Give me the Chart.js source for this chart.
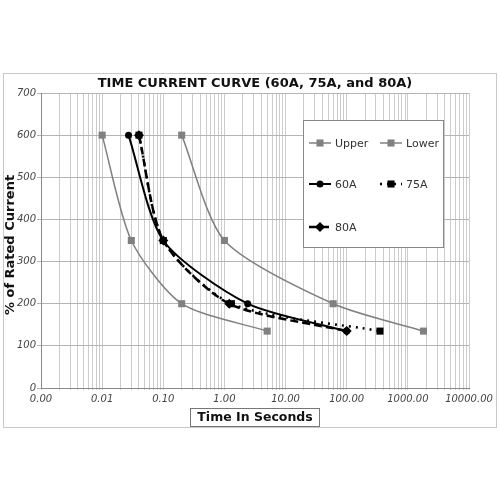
<!DOCTYPE html>
<html>
<head>
<meta charset="utf-8">
<title>Time Current Curve</title>
<script src="https://cdn.jsdelivr.net/npm/chart.js@4.4.1/dist/chart.umd.min.js"></script>
<style>
  html, body { margin: 0; padding: 0; background: #fff; }
</style>
</head>
<body>
<canvas id="tccChart" width="500" height="500"></canvas>
<script>
// time in seconds / % of rated current
const upperTime = [0.01, 0.03, 0.2, 5];
const upperPct = [600, 350, 200, 135];
const lowerTime = [0.2, 1.0, 60, 1800];
const lowerPct = [600, 350, 200, 135];
const amp60Time = [0.027, 0.1, 2.4, 100];
const amp60Pct = [600, 350, 200, 135];
const amp75Time = [0.04, 0.1, 1.3, 350];
const amp75Pct = [600, 350, 200, 135];
const amp80Time = [0.04, 0.1, 1.2, 100];
const amp80Pct = [600, 350, 200, 135];

const seriesNames = ['Upper', 'Lower', '60A', '75A', '80A'];
const xDecades = [0.001, 0.01, 0.1, 1, 10, 100, 1000, 10000];
const xTickLabels = ['0.00', '0.01', '0.10', '1.00', '10.00', '100.00', '1000.00', '10000.00'];
const yMin = 0;
const yMax = 700;
const yStep = 100;

const chartTitle = 'TIME CURRENT CURVE (60A, 75A, and 80A)';
const xTitle = 'Time In Seconds';
const yTitle = '% of Rated Current';

function toPoints(times, pcts) {
    return times.map((t, i) => ({ x: t, y: pcts[i] }));
}

// vertical grid lines at 1..9 of every decade
const xGridValues = [];
xDecades.forEach((d, i) => {
    if (i === xDecades.length - 1) {
        xGridValues.push(d);
        return;
    }
    for (let k = 1; k <= 9; k++) {
        xGridValues.push(Number((d * k).toPrecision(6)));
    }
});

const gray = '#808080';
const black = '#000000';

const datasets = [
    {
        label: seriesNames[0], data: toPoints(upperTime, upperPct),
        borderColor: gray, backgroundColor: gray, borderWidth: 1.5,
        pointStyle: 'rect', pointRadius: 5, pointBorderWidth: 0, order: 3
    },
    {
        label: seriesNames[1], data: toPoints(lowerTime, lowerPct),
        borderColor: gray, backgroundColor: gray, borderWidth: 1.5,
        pointStyle: 'rect', pointRadius: 5, pointBorderWidth: 0, order: 3
    },
    {
        label: seriesNames[2], data: toPoints(amp60Time, amp60Pct),
        borderColor: black, backgroundColor: black, borderWidth: 2,
        pointStyle: 'circle', pointRadius: 3.5, pointBorderWidth: 0, order: 1
    },
    {
        label: seriesNames[3], data: toPoints(amp75Time, amp75Pct),
        borderColor: black, backgroundColor: black, borderWidth: 2.5, borderDash: [2, 5],
        pointStyle: 'rect', pointRadius: 5, pointBorderWidth: 0, order: 2
    },
    {
        label: seriesNames[4], data: toPoints(amp80Time, amp80Pct),
        borderColor: black, backgroundColor: black, borderWidth: 2.5, borderDash: [8, 4],
        pointStyle: 'rectRot', pointRadius: 5, pointBorderWidth: 0, order: 2
    }
];
// gently smoothed curves like the spreadsheet original
datasets.forEach(ds => { ds.tension = 0.25; ds.fill = false; });

// frame, titles and the boxed legend, drawn around the chart area
const decorations = {
    id: 'decorations',
    beforeDraw(chart) {
        const ctx = chart.ctx;
        ctx.save();
        ctx.fillStyle = '#ffffff';
        ctx.fillRect(0, 0, chart.width, chart.height);
        ctx.strokeStyle = '#c8c8c8';
        ctx.lineWidth = 1;
        ctx.strokeRect(3.5, 73.5, 493, 354);
        ctx.restore();
    },
    afterDraw(chart) {
        const ctx = chart.ctx;
        const area = chart.chartArea;
        const midX = (area.left + area.right) / 2;
        ctx.save();
        ctx.fillStyle = '#111111';
        ctx.textAlign = 'center';
        ctx.textBaseline = 'middle';

        ctx.font = 'bold 13px "DejaVu Sans"';
        ctx.fillText(chartTitle, midX, 83.5);

        // x axis title sits in a small box
        ctx.font = 'bold 12.5px "DejaVu Sans"';
        const w = ctx.measureText(xTitle).width + 14;
        ctx.fillStyle = '#ffffff';
        ctx.fillRect(midX - w / 2, 408.5, w, 18);
        ctx.strokeStyle = '#777777';
        ctx.lineWidth = 1;
        ctx.strokeRect(Math.round(midX - w / 2) + 0.5, 408.5, Math.round(w), 18);
        ctx.fillStyle = '#111111';
        ctx.fillText(xTitle, midX, 418);

        ctx.translate(11, 245);
        ctx.rotate(-Math.PI / 2);
        ctx.font = 'bold 13px "DejaVu Sans"';
        ctx.fillText(yTitle, 0, 0);
        ctx.restore();

        drawLegend(chart);
    }
};

function drawLegend(chart) {
    const ctx = chart.ctx;
    const slots = [
        { left: 309, y: 143 },
        { left: 380, y: 143 },
        { left: 309, y: 184 },
        { left: 380, y: 184 },
        { left: 309, y: 227 }
    ];
    ctx.save();
    ctx.fillStyle = '#ffffff';
    ctx.fillRect(303.5, 120.5, 140, 127);
    ctx.strokeStyle = '#888888';
    ctx.lineWidth = 1;
    ctx.strokeRect(303.5, 120.5, 140, 127);

    chart.data.datasets.forEach((ds, i) => {
        const s = slots[i];
        ctx.save();
        ctx.strokeStyle = ds.borderColor;
        ctx.lineWidth = ds.borderWidth;
        ctx.setLineDash(ds.borderDash || []);
        ctx.beginPath();
        ctx.moveTo(s.left, s.y);
        ctx.lineTo(s.left + 22, s.y);
        ctx.stroke();
        ctx.setLineDash([]);
        ctx.fillStyle = ds.backgroundColor;
        Chart.helpers.drawPoint(ctx, { pointStyle: ds.pointStyle, radius: ds.pointRadius, rotation: 0, borderWidth: 0 }, s.left + 11, s.y);
        ctx.restore();

        ctx.fillStyle = '#333333';
        ctx.font = '11px "DejaVu Sans"';
        ctx.textAlign = 'left';
        ctx.textBaseline = 'middle';
        ctx.fillText(ds.label, s.left + 26, s.y + 1);
    });
    ctx.restore();
}

const tickFont = { family: 'DejaVu Sans', size: 10, style: 'italic' };

new Chart(document.getElementById('tccChart'), {
    type: 'line',
    data: { datasets: datasets },
    options: {
        responsive: false,
        animation: false,
        layout: { padding: { top: 93, right: 31, bottom: 0, left: 0 } },
        plugins: {
            legend: { display: false },
            title: { display: false },
            tooltip: { enabled: false }
        },
        scales: {
            x: {
                type: 'logarithmic',
                position: 'bottom',
                min: xDecades[0],
                max: xDecades[xDecades.length - 1],
                afterBuildTicks: axis => {
                    axis.ticks = xGridValues.map(v => ({ value: v }));
                },
                afterFit: axis => { axis.height = 112; },
                grid: { color: '#cccccc', lineWidth: 1, tickLength: 2 },
                border: { color: '#888888', width: 1 },
                ticks: {
                    autoSkip: false,
                    maxRotation: 0,
                    padding: 3,
                    color: '#444444',
                    font: tickFont,
                    callback: value => {
                        const i = xDecades.indexOf(value);
                        return i >= 0 ? xTickLabels[i] : '';
                    }
                }
            },
            y: {
                type: 'linear',
                min: yMin,
                max: yMax,
                afterFit: axis => { axis.width = 41; },
                grid: { color: '#b4b4b4', lineWidth: 1, tickLength: 4 },
                border: { color: '#888888', width: 1 },
                ticks: {
                    stepSize: yStep,
                    padding: 1,
                    color: '#444444',
                    font: tickFont
                }
            }
        }
    },
    plugins: [decorations]
});
</script>
</body>
</html>
